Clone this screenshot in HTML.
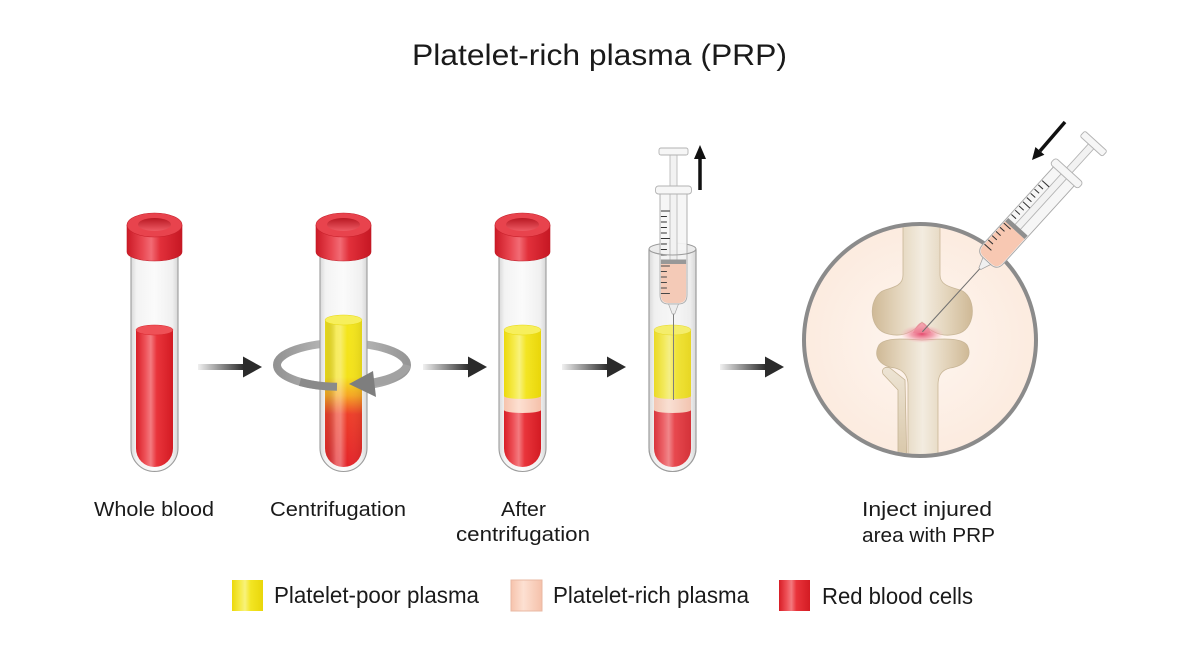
<!DOCTYPE html>
<html><head><meta charset="utf-8"><style>html,body{margin:0;padding:0;background:#fff;}svg{display:block}</style></head>
<body>
<svg width="1200" height="649" viewBox="0 0 1200 649" font-family="'Liberation Sans', Arial, sans-serif">
<defs>
  <linearGradient id="glass" x1="0" x2="1" y1="0" y2="0">
    <stop offset="0" stop-color="#d9d9d9"/><stop offset="0.12" stop-color="#f3f3f3"/>
    <stop offset="0.5" stop-color="#fbfbfb"/><stop offset="0.88" stop-color="#f0f0f0"/><stop offset="1" stop-color="#d6d6d6"/>
  </linearGradient>
  <linearGradient id="red" x1="0" x2="1" y1="0" y2="0">
    <stop offset="0" stop-color="#d81d26"/><stop offset="0.25" stop-color="#ee5158"/>
    <stop offset="0.4" stop-color="#f37a7f"/><stop offset="0.56" stop-color="#e9343b"/><stop offset="1" stop-color="#d31b23"/>
  </linearGradient>
  <linearGradient id="yel" x1="0" x2="1" y1="0" y2="0">
    <stop offset="0" stop-color="#ecd90b"/><stop offset="0.28" stop-color="#f6ec4e"/>
    <stop offset="0.42" stop-color="#f8f27c"/><stop offset="0.6" stop-color="#f3e523"/><stop offset="1" stop-color="#e9d60a"/>
  </linearGradient>
  <linearGradient id="peach" x1="0" x2="1" y1="0" y2="0">
    <stop offset="0" stop-color="#f6c3ac"/><stop offset="0.4" stop-color="#fde0d2"/><stop offset="1" stop-color="#f5c1aa"/>
  </linearGradient>
  <linearGradient id="cap" x1="0" x2="1" y1="0" y2="0">
    <stop offset="0" stop-color="#cc1a26"/><stop offset="0.28" stop-color="#e94852"/>
    <stop offset="0.44" stop-color="#f26b74"/><stop offset="0.6" stop-color="#e2303b"/><stop offset="1" stop-color="#c61723"/>
  </linearGradient>
  <linearGradient id="hole" x1="0" x2="0" y1="0" y2="1">
    <stop offset="0" stop-color="#b81822"/><stop offset="1" stop-color="#ee5a63"/>
  </linearGradient>
  <linearGradient id="centr" x1="0" x2="0" y1="315" y2="470" gradientUnits="userSpaceOnUse">
    <stop offset="0" stop-color="#f4e61c"/><stop offset="0.4" stop-color="#f4e21a"/>
    <stop offset="0.52" stop-color="#f6a623"/><stop offset="0.64" stop-color="#ee3f2a"/><stop offset="1" stop-color="#e3222a"/>
  </linearGradient>
  <linearGradient id="shine" x1="0" x2="1" y1="0" y2="0">
    <stop offset="0" stop-color="#000" stop-opacity="0.06"/><stop offset="0.3" stop-color="#fff" stop-opacity="0.3"/>
    <stop offset="0.42" stop-color="#fff" stop-opacity="0.35"/><stop offset="0.6" stop-color="#fff" stop-opacity="0"/>
    <stop offset="1" stop-color="#000" stop-opacity="0.08"/>
  </linearGradient>
  <linearGradient id="arrG" x1="0" x2="1" y1="0" y2="0">
    <stop offset="0" stop-color="#f0f0f0"/><stop offset="1" stop-color="#2b2b2b"/>
  </linearGradient>
  <linearGradient id="ring" x1="0" x2="1" y1="0" y2="0">
    <stop offset="0" stop-color="#939393"/><stop offset="0.5" stop-color="#c2c2c2"/><stop offset="1" stop-color="#969696"/>
  </linearGradient>
  <radialGradient id="skin" cx="0.5" cy="0.5" r="0.5">
    <stop offset="0" stop-color="#fef6f0"/><stop offset="1" stop-color="#fcebdf"/>
  </radialGradient>
  <linearGradient id="bone" x1="0" x2="1" y1="0" y2="0">
    <stop offset="0" stop-color="#cfb996"/><stop offset="0.25" stop-color="#e3d4bb"/>
    <stop offset="0.5" stop-color="#f3ece0"/><stop offset="0.75" stop-color="#e3d4bb"/><stop offset="1" stop-color="#cfb996"/>
  </linearGradient>
  <linearGradient id="boneV" x1="0" x2="0" y1="0" y2="1">
    <stop offset="0" stop-color="#ede4d4"/><stop offset="1" stop-color="#d6c3a3"/>
  </linearGradient>
  <radialGradient id="pink" cx="0.5" cy="0.5" r="0.5">
    <stop offset="0" stop-color="#e54a6e"/><stop offset="0.5" stop-color="#ef8a9c" stop-opacity="0.75"/><stop offset="1" stop-color="#f6b8bf" stop-opacity="0"/>
  </radialGradient>
  <clipPath id="circ"><circle cx="920" cy="340" r="114"/></clipPath>
  <g id="syr">
    <path d="M-13.5,45 V147 Q-13.5,156 -5,156 H5 Q13.5,156 13.5,147 V45 Z" fill="#f5f5f5" fill-opacity="0.92" stroke="#a8a8a8" stroke-width="0.9"/>
    <rect x="-3.5" y="4" width="7" height="110" fill="#f2f2f2" stroke="#b3b3b3" stroke-width="0.8"/>
    <path d="M-12.6,116 V147 Q-12.6,155 -5,155 H5 Q12.6,155 12.6,147 V116 Z" fill="#f8c8b2"/>
    <path d="M-12.6,63h9 M-12.6,68.5h6 M-12.6,74h6 M-12.6,79.5h6 M-12.6,85h6 M-12.6,90.5h9 M-12.6,96h6 M-12.6,101.5h6 M-12.6,107h6 M-12.6,118h9 M-12.6,123.5h6 M-12.6,129h6 M-12.6,134.5h6 M-12.6,140h6 M-12.6,145.5h9" stroke="#333" stroke-width="1"/>
    <rect x="-12.6" y="111.5" width="25.2" height="4.5" fill="#8f8f8f"/>
    <path d="M-5,156 L-1.2,166 H1.2 L5,156 Z" fill="#f0f0f0" stroke="#a0a0a0" stroke-width="0.7"/>
    <rect x="-18" y="38" width="36" height="8" rx="3" fill="#f6f6f6" stroke="#b3b3b3" stroke-width="0.9"/>
    <rect x="-14.5" y="0" width="29" height="7" rx="2" fill="#f6f6f6" stroke="#b3b3b3" stroke-width="0.9"/>
  </g>
  <g id="arr">
    <rect x="0" y="-3" width="46" height="6" fill="url(#arrG)"/>
    <polygon points="45,-10.5 64,0 45,10.5" fill="#2b2b2b"/>
  </g>
  <g id="capg">
    <path d="M-27.5,225 V252 A27.5,9 0 0 0 27.5,252 V225 Z" fill="url(#cap)" stroke="#c01a25" stroke-width="0.6"/>
    <ellipse cx="0" cy="225" rx="27.5" ry="12" fill="#e8434d" stroke="#c8202b" stroke-width="0.6"/>
    <ellipse cx="0" cy="224.5" rx="16.5" ry="6.5" fill="url(#hole)"/>
  </g>
</defs>

<!-- Title -->
<text x="599.5" y="65" font-size="30" text-anchor="middle" textLength="375" lengthAdjust="spacingAndGlyphs" fill="#1a1a1a">Platelet-rich plasma (PRP)</text>

<!-- Tube 1 -->
<path d="M131,252 V448 A23.5,23.5 0 0 0 178,448 V252 Z" fill="url(#glass)" stroke="#9c9c9c" stroke-width="1.1"/>
<path d="M136,330 V448.5 A18.5,18.5 0 0 0 173,448.5 V330 Z" fill="url(#red)"/>
<ellipse cx="154.5" cy="330" rx="18.5" ry="5" fill="#ef5157" stroke="#d8262d" stroke-width="0.5"/>
<use href="#capg" x="154.5" y="0"/>

<!-- Arrow 1 -->
<use href="#arr" transform="translate(198,367)"/>

<!-- Tube 2 with centrifuge ring -->
<ellipse cx="342" cy="365" rx="65" ry="22" fill="none" stroke="url(#ring)" stroke-width="8"/>
<path d="M320,252 V448 A23.5,23.5 0 0 0 367,448 V252 Z" fill="url(#glass)" stroke="#9c9c9c" stroke-width="1.1"/>
<path d="M325,320 V448.5 A18.5,18.5 0 0 0 362,448.5 V320 Z" fill="url(#centr)"/>
<path d="M325,320 V448.5 A18.5,18.5 0 0 0 362,448.5 V320 Z" fill="url(#shine)"/>
<ellipse cx="343.5" cy="320" rx="18.5" ry="5" fill="#f7ef5c" stroke="#e8d80e" stroke-width="0.5"/>
<use href="#capg" x="343.5" y="0"/>
<path d="M300,382 A65,22 0 0 0 337,386.8" fill="none" stroke="#8a8a8a" stroke-width="8"/>
<path d="M407,365 A65,22 0 0 1 370,383" fill="none" stroke="#a2a2a2" stroke-width="8"/>
<polygon points="349,384 373,371 376,397" fill="#7e7e7e"/>

<!-- Arrow 2 -->
<use href="#arr" transform="translate(423,367)"/>

<!-- Tube 3 -->
<path d="M499,252 V448 A23.5,23.5 0 0 0 546,448 V252 Z" fill="url(#glass)" stroke="#9c9c9c" stroke-width="1.1"/>
<path d="M504,330 V448.5 A18.5,18.5 0 0 0 541,448.5 V330 Z" fill="url(#red)"/>
<path d="M504,330 V410 A18.5,3 0 0 0 541,410 V330 Z" fill="url(#peach)"/>
<path d="M504,330 V396 A18.5,3 0 0 0 541,396 V330 Z" fill="url(#yel)"/>
<ellipse cx="522.5" cy="330" rx="18.5" ry="5" fill="#f7ef5c" stroke="#e8d80e" stroke-width="0.5"/>
<use href="#capg" x="522.5" y="0"/>

<!-- Arrow 3 -->
<use href="#arr" transform="translate(562,367)"/>

<!-- Tube 4 (open, with syringe) -->
<path d="M649,249 V448 A23.5,23.5 0 0 0 696,448 V249 Z" fill="url(#glass)" stroke="#9c9c9c" stroke-width="1.1"/>
<ellipse cx="672.5" cy="249" rx="23.5" ry="6" fill="#ececec" stroke="#9c9c9c" stroke-width="1"/>
<path d="M654,330 V448.5 A18.5,18.5 0 0 0 691,448.5 V330 Z" fill="url(#red)"/>
<path d="M654,330 V410 A18.5,3 0 0 0 691,410 V330 Z" fill="url(#peach)"/>
<path d="M654,330 V396 A18.5,3 0 0 0 691,396 V330 Z" fill="url(#yel)"/>
<ellipse cx="672.5" cy="330" rx="18.5" ry="5" fill="#f7ef5c" stroke="#e8d80e" stroke-width="0.5"/>
<g transform="translate(673.5,148)">
  <line x1="0" y1="166" x2="0" y2="252" stroke="#707070" stroke-width="1"/>
  <use href="#syr"/>
</g>
<path d="M649,250 V448 A23.5,23.5 0 0 0 696,448 V250" fill="#e0e0e0" fill-opacity="0.12" stroke="#9c9c9c" stroke-width="1.1"/>
<path d="M649,249 A23.5,6 0 0 0 696,249" fill="none" stroke="#9c9c9c" stroke-width="1"/>
<!-- up arrow -->
<line x1="700" y1="190" x2="700" y2="156" stroke="#111" stroke-width="3.5"/>
<polygon points="694,159 706,159 700,145" fill="#111"/>

<!-- Arrow 4 -->
<use href="#arr" transform="translate(720,367)"/>

<!-- Knee circle -->
<circle cx="920" cy="340" r="116" fill="url(#skin)"/>
<g clip-path="url(#circ)">
  <!-- fibula -->
  <path d="M883,374 C881,369 885,366 890,368 L905,380 L907,470 L898,470 L898,390 Z" fill="url(#boneV)" stroke="#c5b394" stroke-width="0.8"/>
  <!-- tibia -->
  <path d="M879,345 C885,337 905,339 922,340 C940,339 961,337 967,345 C973,356 965,366 950,368 C942,370 938,375 938,385 L938,470 L908,470 L908,385 C908,375 903,370 895,368 C879,366 873,356 879,345 Z" fill="url(#bone)" stroke="#c8b697" stroke-width="0.8"/>
  <!-- femur -->
  <path d="M903,215 L903,275 C903,285 895,287 885,290 C869,295 867,326 885,333 C900,338 912,334 922,322 C932,334 945,338 960,333 C977,326 976,295 960,290 C950,287 940,285 940,275 L940,215 Z" fill="url(#bone)" stroke="#c8b697" stroke-width="0.8"/>
  <ellipse cx="922" cy="334" rx="22" ry="9" fill="url(#pink)"/>
  <path d="M913,333 Q922,312 931,333 Z" fill="#ec7f93" fill-opacity="0.7"/>
</g>
<circle cx="920" cy="340" r="116" fill="none" stroke="#8b8b8b" stroke-width="4"/>

<!-- diagonal syringe -->
<g transform="translate(1096,141) rotate(42.3) scale(1.04)">
  <line x1="0" y1="166" x2="0" y2="248" stroke="#707070" stroke-width="1"/>
  <use href="#syr"/>
</g>
<!-- diagonal arrow -->
<line x1="1065" y1="122" x2="1040" y2="151" stroke="#111" stroke-width="3.5"/>
<polygon points="1032,160 1044.4,154.8 1035.4,147" fill="#111"/>

<!-- Labels -->
<g font-size="20" fill="#1a1a1a" text-anchor="middle">
  <text x="154" y="516" textLength="120" lengthAdjust="spacingAndGlyphs">Whole blood</text>
  <text x="338" y="516" textLength="136" lengthAdjust="spacingAndGlyphs">Centrifugation</text>
  <text x="523.5" y="516" textLength="45" lengthAdjust="spacingAndGlyphs">After</text>
  <text x="523" y="541" textLength="134" lengthAdjust="spacingAndGlyphs">centrifugation</text>
  <text x="927" y="516" textLength="130" lengthAdjust="spacingAndGlyphs">Inject injured</text>
  <text x="928.5" y="542" textLength="133" lengthAdjust="spacingAndGlyphs">area with PRP</text>
</g>

<!-- Legend -->
<rect x="232" y="580" width="31" height="31" fill="url(#yel)"/>
<rect x="511" y="580" width="31" height="31" fill="url(#peach)" stroke="#e9b8a3" stroke-width="1"/>
<rect x="779" y="580" width="31" height="31" fill="url(#red)"/>
<g font-size="23" fill="#1a1a1a">
  <text x="274" y="603" textLength="205" lengthAdjust="spacingAndGlyphs">Platelet-poor plasma</text>
  <text x="553" y="603" textLength="196" lengthAdjust="spacingAndGlyphs">Platelet-rich plasma</text>
  <text x="822" y="604" textLength="151" lengthAdjust="spacingAndGlyphs">Red blood cells</text>
</g>
</svg>
</body></html>
